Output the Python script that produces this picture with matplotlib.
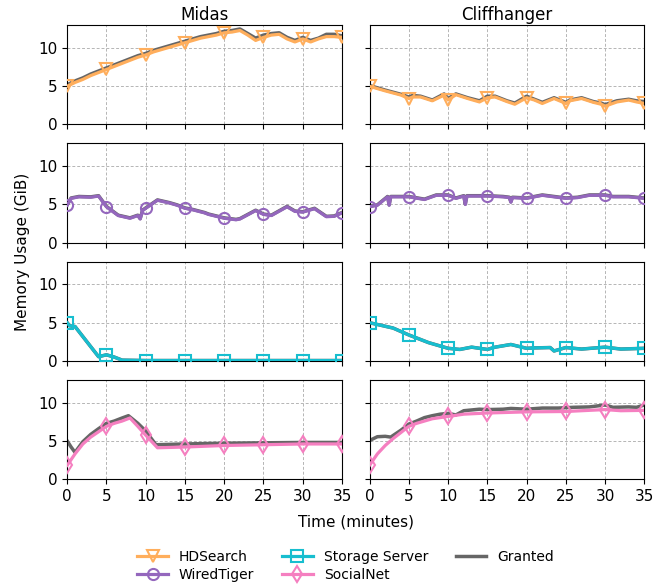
import numpy as np
import matplotlib
matplotlib.use('Agg')
import matplotlib.pyplot as plt

# ---- data (minutes, GiB) ----
# Midas / HDSearch
t_mid_hd = [0,1,2,3,4,5,6,7,8,9,10,11,12,13,14,15,16,17,18,19,20,21,22,23,24,25,26,27,28,29,30,31,32,33,34,35]
mid_hd = [5.0,5.5,5.9,6.4,6.8,7.2,7.6,8.0,8.4,8.8,9.1,9.5,9.8,10.1,10.4,10.7,11.0,11.3,11.5,11.7,12.0,12.1,12.3,11.7,11.0,11.4,11.7,11.8,11.2,10.8,11.2,10.8,11.2,11.5,11.5,11.4]
mid_hd_g = [5.2,5.7,6.1,6.6,7.0,7.4,7.8,8.2,8.6,9.0,9.3,9.7,10.0,10.3,10.6,10.9,11.2,11.5,11.7,11.9,12.2,12.3,12.5,11.9,11.3,11.7,11.9,12.0,11.4,11.0,11.4,11.0,11.3,11.8,11.8,11.6]

# Cliffhanger / HDSearch
t_cl_hd = [0,2,4,5,5.5,6.5,8,9.5,10,11,12.5,14,15,16,17.5,18.5,20,21,22,23.5,25,25.5,27,28.5,29.5,30,31.5,33,34,35]
cl_hd = [5.0,4.4,3.85,3.4,3.6,3.6,3.1,3.85,3.2,3.9,3.4,2.95,3.5,3.6,3.0,2.65,3.5,3.2,2.75,3.4,2.75,3.1,3.4,2.9,2.65,2.4,2.95,3.2,2.95,2.75]
cl_hd_g = [5.1,4.5,3.95,3.6,3.8,3.7,3.2,4.0,3.4,4.0,3.5,3.1,3.7,3.7,3.1,2.8,3.7,3.3,2.9,3.5,2.9,3.2,3.5,3.0,2.8,2.6,3.1,3.3,3.1,3.0]

# Midas / WiredTiger
t_mid_wt = [0,0.5,1.5,3,4,5,6.5,8,9,9.3,9.6,10,11.5,13,14,15,16,17.5,18,20,21.5,22,24,25,26,28,29,30,31.5,33,34,35]
mid_wt = [4.9,5.8,6.0,5.95,6.1,4.7,3.55,3.2,3.55,3.1,4.2,4.5,5.55,5.2,4.9,4.5,4.3,3.9,3.7,3.2,3.0,3.1,4.2,3.7,3.55,4.7,4.1,4.0,4.45,3.4,3.45,3.9]
mid_wt_g = [4.95,5.85,6.05,6.0,6.15,4.75,3.6,3.25,3.6,3.15,4.25,4.55,5.6,5.25,4.95,4.55,4.35,3.95,3.75,3.25,3.05,3.15,4.25,3.75,3.6,4.75,4.15,4.05,4.5,3.45,3.5,3.95]

# Cliffhanger / WiredTiger
t_cl_wt = [0,1,2.3,2.5,2.7,5,7,8.5,10,11,12,12.2,12.4,15,17,17.8,18,18.2,20,22,23.5,25,26.5,28,30,31,33,35]
cl_wt = [4.7,4.9,6.0,4.9,6.0,6.0,5.65,6.2,6.2,5.8,6.1,5.0,6.1,6.1,6.0,5.9,5.3,5.9,5.8,6.2,6.0,5.8,5.9,6.2,6.2,6.0,6.0,5.8]
cl_wt_g = [4.75,4.95,6.05,4.95,6.05,6.05,5.7,6.25,6.25,5.85,6.15,5.05,6.15,6.15,6.05,5.95,5.35,5.95,5.85,6.25,6.05,5.85,5.95,6.25,6.25,6.05,6.05,5.85]

# Midas / Storage Server
t_mid_ss = [0,0.3,1,4,5,6,7,10,15,20,25,30,35]
mid_ss = [5.0,4.6,4.5,0.55,0.8,0.5,0.1,0.05,0.05,0.05,0.05,0.05,0.05]
mid_ss_g = [5.0,4.6,4.5,0.55,0.8,0.5,0.1,0.05,0.05,0.05,0.05,0.05,0.05]

# Cliffhanger / Storage Server
t_cl_ss = [0,3,5,7.5,10,11.5,13,15,16,18,20,21,23,23.5,25,27,30,32,35]
cl_ss = [5.0,4.3,3.4,2.4,1.65,1.5,1.8,1.5,1.8,2.15,1.65,1.7,1.75,1.3,1.75,1.55,1.8,1.55,1.65]
cl_ss_g = [5.0,4.3,3.4,2.4,1.65,1.5,1.8,1.5,1.8,2.15,1.65,1.7,1.75,1.3,1.75,1.55,1.8,1.55,1.65]

# Midas / SocialNet
t_mid_sn = [0,1,2,3,4,5,6,7,8,9,10,11.5,15,20,25,30,35]
mid_sn = [1.8,3.3,4.6,5.5,6.2,6.9,7.3,7.6,8.0,6.9,5.75,4.1,4.2,4.4,4.5,4.6,4.6]
t_mid_sn_g = [0,0.5,1,2,3,4,5,6,7,7.8,9,10,11.3,15,20,25,30,35]
mid_sn_g = [5.0,4.2,3.5,4.9,5.85,6.6,7.3,7.6,8.0,8.3,7.3,6.3,4.5,4.6,4.7,4.75,4.8,4.8]

# Cliffhanger / SocialNet
t_cl_sn = [0,1,2,3,4,5,6,7,8,10,12,15,20,25,30,32,35]
cl_sn = [1.8,3.3,4.4,5.3,6.1,6.9,7.3,7.6,7.9,8.2,8.5,8.65,8.8,8.85,9.1,8.95,9.0]
t_cl_sn_g = [0,1,2,2.7,4,5,6,7,8,9,10,11,12,13,14,15,17,18,20,22,24,26,28,30,31,33,34,35]
cl_sn_g = [5.05,5.55,5.6,5.5,6.4,7.2,7.6,8.05,8.3,8.5,8.6,8.4,8.95,9.05,9.15,9.1,9.15,9.25,9.15,9.3,9.3,9.4,9.45,9.7,9.4,9.45,9.4,9.7]

apps = ['HDSearch', 'WiredTiger', 'Storage Server', 'SocialNet']
colors = ['#ffae5c', '#9467bd', '#17becf', '#f57fc0']
markers = ['v', 'o', 's', 'd']
systems = ['Midas', 'Cliffhanger']

panels = [
    [(t_mid_hd, mid_hd, t_mid_hd, mid_hd_g), (t_cl_hd, cl_hd, t_cl_hd, cl_hd_g)],
    [(t_mid_wt, mid_wt, t_mid_wt, mid_wt_g), (t_cl_wt, cl_wt, t_cl_wt, cl_wt_g)],
    [(t_mid_ss, mid_ss, t_mid_ss, mid_ss_g), (t_cl_ss, cl_ss, t_cl_ss, cl_ss_g)],
    [(t_mid_sn, mid_sn, t_mid_sn_g, mid_sn_g), (t_cl_sn, cl_sn, t_cl_sn_g, cl_sn_g)],
]

fig, axes = plt.subplots(4, 2, figsize=(6.65, 5.85), dpi=100, sharex=True, sharey=True)
fig.subplots_adjust(left=0.101, right=0.969, top=0.957, bottom=0.181, hspace=0.19, wspace=0.1)

for r in range(4):
    for c in range(2):
        ax = axes[r, c]
        t, y, tg, yg = panels[r][c]
        ax.plot(tg, yg, color='#666666', lw=2.5, zorder=2)
        marks = [i for i, v in enumerate(t) if v % 5 == 0]
        ax.plot(t, y, color=colors[r], lw=2.3, marker=markers[r], markevery=marks,
                markersize=8, fillstyle='none', markeredgewidth=1.5, zorder=3)
        ax.grid(True, linestyle=(0, (3, 2)), color='#b5b5b5', lw=0.7)
        ax.set_axisbelow(True)
        ax.tick_params(labelsize=11)
        if r == 0:
            ax.set_title(systems[c], fontsize=12, pad=4)

axes[0, 0].set_xlim(0, 35)
axes[0, 0].set_ylim(0, 13)
axes[0, 0].set_xticks(range(0, 36, 5))
axes[0, 0].set_yticks([0, 5, 10])

fig.text(0.034, 0.57, 'Memory Usage (GiB)', rotation=90, ha='center', va='center', fontsize=11)
fig.text(0.535, 0.108, 'Time (minutes)', ha='center', va='center', fontsize=11)

handles = []
for i in range(4):
    h, = axes[0, 0].plot([], [], color=colors[i], lw=2.3, marker=markers[i], markersize=8,
                         fillstyle='none', markeredgewidth=1.5)
    handles.append(h)
hg, = axes[0, 0].plot([], [], color='#666666', lw=2.5)
handles.append(hg)
fig.legend(handles, apps + ['Granted'], loc='center', bbox_to_anchor=(0.52, 0.033),
           ncol=3, frameon=False, fontsize=10, handlelength=2.2, columnspacing=2.0,
           handletextpad=0.8, labelspacing=0.3)

plt.savefig('out.png', dpi=100)
